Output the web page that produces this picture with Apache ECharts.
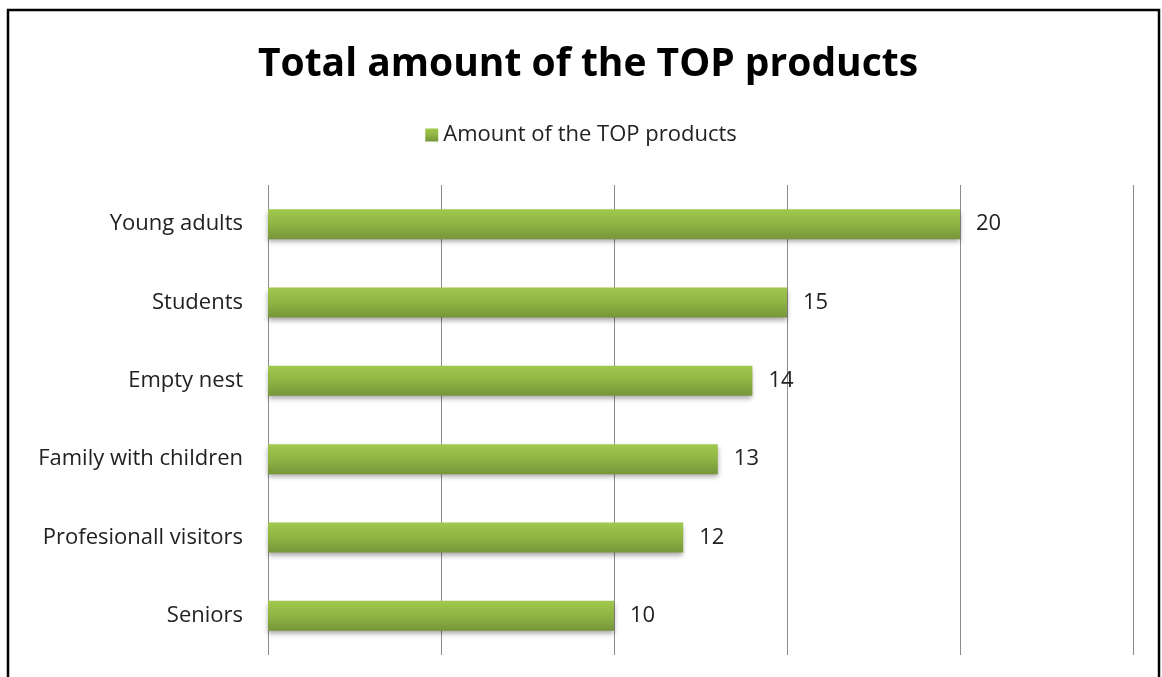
<!DOCTYPE html>
<html><head><meta charset="utf-8">
<script src="https://cdn.jsdelivr.net/npm/echarts@6/dist/echarts.min.js"></script>
<style>html,body{margin:0;padding:0;background:#fff;}#c{width:1162px;height:677px;}</style>
</head><body><div id="c"></div>
<script>
const categories = ["Young adults","Students","Empty nest","Family with children","Profesionall visitors","Seniors"];
const values = [20,15,14,13,12,10];
const seriesName = "Amount of the TOP products";
const titleText = "Total amount of the TOP products";

const chart = echarts.init(document.getElementById('c'));
chart.setOption({
  backgroundColor:'#fff',
  animation:false,
  title:{text:titleText,left:583,textAlign:'center',top:40,textStyle:{fontFamily:'Open Sans',fontWeight:'bold',fontSize:39,color:'#000'}},
  legend:{top:119,left:'center',itemWidth:13,itemHeight:13,itemGap:7,icon:'rect',
    textStyle:{fontFamily:'Open Sans',fontSize:22,color:'#222'},data:[seriesName]},
  graphic:[{type:'rect',shape:{x:8,y:10,width:1151,height:700},style:{fill:'none',stroke:'#000',lineWidth:2.5},silent:true}],
  grid:{left:268,right:29,top:185,bottom:22,containLabel:false},
  xAxis:{type:'value',min:0,max:25,interval:5,axisLabel:{show:false},axisLine:{show:false},axisTick:{show:false},
    splitLine:{show:true,lineStyle:{color:'#8c8c8c',width:1}}},
  yAxis:{type:'category',inverse:true,data:categories,axisLine:{show:false},axisTick:{show:false},
    axisLabel:{fontFamily:'Open Sans',fontSize:22,color:'#222',margin:25}},
  series:[{name:seriesName,type:'bar',data:values,barWidth:30,
    itemStyle:{color:new echarts.graphic.LinearGradient(0,0,0,1,[{offset:0,color:'#a1c84e'},{offset:0.5,color:'#8fb443'},{offset:1,color:'#76953a'}]),
      shadowColor:'rgba(0,0,0,0.35)',shadowBlur:5,shadowOffsetY:3},
    label:{show:true,position:'right',distance:16,fontFamily:'Open Sans',fontSize:22,color:'#222'}}]
});
</script></body></html>
